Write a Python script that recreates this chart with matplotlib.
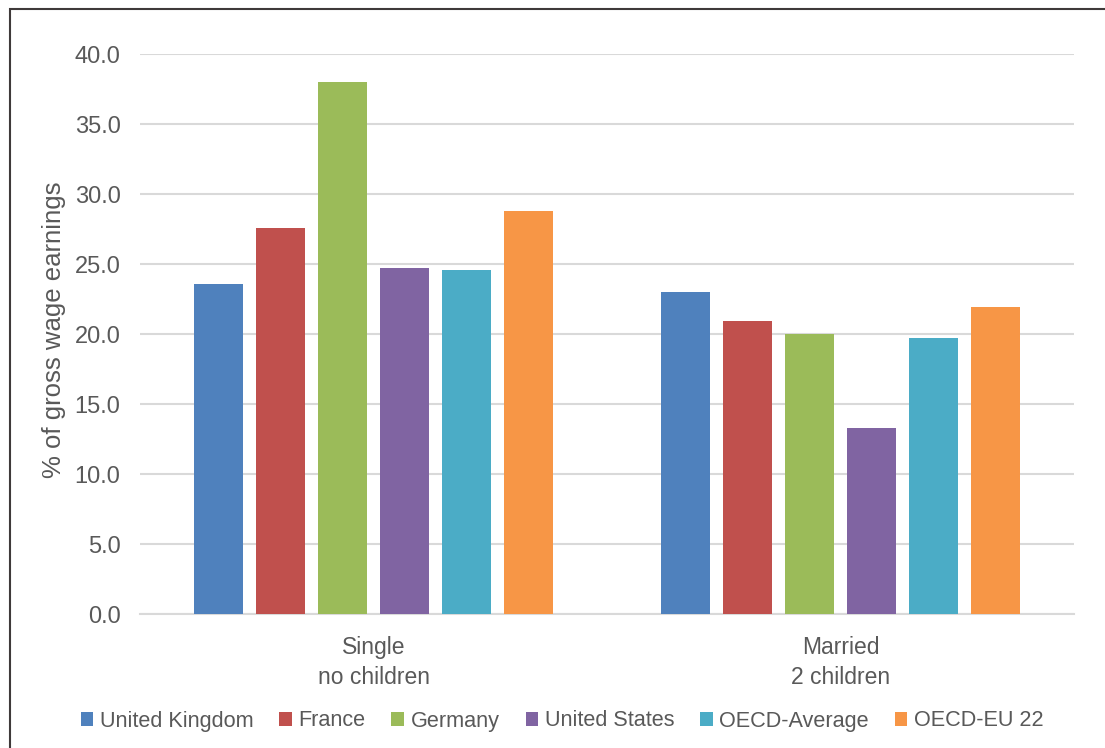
import numpy as np
import matplotlib
matplotlib.use("Agg")
import matplotlib.pyplot as plt
from matplotlib.patches import Rectangle

plt.rcParams["font.family"] = ["Liberation Sans", "DejaVu Sans"]

groups = ["Single\nno children", "Married\n2 children"]
series = ["United Kingdom", "France", "Germany", "United States",
          "OECD-Average", "OECD-EU 22"]
colors = ["#4f81bd", "#c0504d", "#9bbb59", "#8064a2", "#4bacc6", "#f79646"]
single = [23.6, 27.6, 38.0, 24.7, 24.6, 28.8]
married = [23.0, 20.9, 20.0, 13.3, 19.7, 21.9]
yticks = [0, 5, 10, 15, 20, 25, 30, 35, 40]

TXT = "#595959"
GRID = "#d9d9d9"

fig = plt.figure(figsize=(11.05, 7.48), dpi=100)
ax = fig.add_axes([0.1267, 0.1791, 0.8453, 0.7487])

x = np.arange(len(groups))
step, width = 0.1328, 0.105
for i, (name, col) in enumerate(zip(series, colors)):
    vals = [single[i], married[i]]
    ax.bar(x + (i - 2.5) * step, vals, width, color=col, label=name, zorder=3)

ax.set_xlim(-0.5, 1.5)
ax.set_ylim(0, 40)
ax.set_yticks(yticks)
ax.set_yticklabels([f"{v:.1f}" for v in yticks])
ax.set_xticks(x)
ax.set_xticklabels(groups, linespacing=1.38)
ax.tick_params(axis="y", length=0, pad=14, labelsize=17, labelcolor=TXT)
ax.tick_params(axis="x", length=0, pad=16, labelsize=16.5, labelcolor=TXT)
ax.grid(axis="y", color=GRID, lw=1.5, zorder=0)
for s in ["top", "right", "left"]:
    ax.spines[s].set_visible(False)
ax.spines["bottom"].set_color(GRID)
ax.spines["bottom"].set_linewidth(1.5)
ax.set_ylabel("% of gross wage earnings", fontsize=18.5, color=TXT)
ax.yaxis.set_label_coords(-0.079, 0.508)

fig.legend(loc="center", bbox_to_anchor=(562 / 1105, 1 - 721 / 748), ncol=6,
           frameon=False, fontsize=15.6, labelcolor=TXT, handlelength=0.58,
           handleheight=0.58, handletextpad=0.3, columnspacing=1.2,
           borderaxespad=0)

# outer frame, left and top edges only show
fig.patches.append(Rectangle((10 / 1105, -0.1), 1.2, 1.1 - 9 / 748,
                             transform=fig.transFigure, fill=False,
                             edgecolor="#3f3a3a", lw=1.5))

fig.savefig("out.png", dpi=100)
